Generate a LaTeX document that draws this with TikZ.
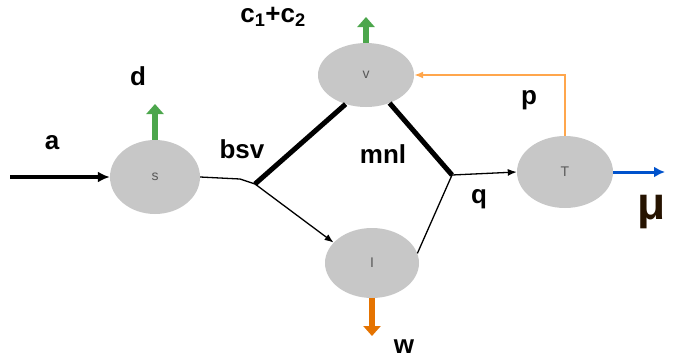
\documentclass[tikz,border=0pt]{standalone}
\usepackage{amsmath}
\usepackage{fontspec}
\setmainfont{Liberation Sans}
\usetikzlibrary{arrows.meta,shapes.geometric}

\begin{document}
\begin{tikzpicture}[x=1pt,y=-1pt,
		pool/.style={ellipse,fill=black!22,inner sep=0pt,font=\fontsize{14}{16}\selectfont,text=black!65},
		lbl/.style={font=\fontsize{26}{30}\selectfont\bfseries,inner sep=0pt},
		flow/.style={-{Latex[length=9pt,width=7pt]},line width=1.3pt},
		fat/.style={line width=6pt,-{Triangle[length=10pt,width=17pt]}}]
		\useasboundingbox (0,0) rectangle (675,360);
		% compartments
		\node[pool,minimum width=90pt,minimum height=74pt] (s) at (155,177) {s};
		\node[pool,minimum width=96pt,minimum height=64pt] (v) at (366,75) {v};
		\node[pool,minimum width=94pt,minimum height=70pt] (i) at (372,263) {I};
		\node[pool,minimum width=96pt,minimum height=72pt] (t) at (565,172) {T};
		\coordinate (in) at (10,177);
		\coordinate (j1) at (255,184);
		\coordinate (j2) at (452,175);
		\coordinate (sd) at (155,104);
		\coordinate (vc) at (366,17);
		\coordinate (iw) at (372,336);
		\coordinate (tm) at (665,172);
		% flows
		\draw[line width=3.5pt,-{Latex[length=12pt,width=11pt]}] (in) -- (s);
		\draw[line width=1.3pt] (s.east) -- (240,179) -- (j1);
		\draw[line width=5pt] (j1) -- (v.235);
		\draw[flow] (j1) -- (i.152);
		\draw[line width=5pt] (v.310) -- (j2);
		\draw[line width=1.3pt] (i.12) -- (j2);
		\draw[flow] (j2) -- (t.west);
		\draw[draw=orange!70!white,line width=1.6pt,-{Latex[length=9pt,width=7pt]}] (t.north) |- (v.east);
		\draw[fat,draw=green!50!black!70,fill=green!50!black!70] (s.north) -- (sd);
		\draw[fat,draw=green!50!black!70,fill=green!50!black!70] (v.north) -- (vc);
		\draw[fat,draw=orange!90!black,fill=orange!90!black] (i.south) -- (iw);
		\draw[line width=3pt,draw=blue!60!cyan!80!black,-{Latex[length=11pt,width=11pt]}] (t.east) -- (tm);
		% labels
		\node[lbl] (la) at (52,143) {a};
		\node[lbl] (ld) at (138,76) {d};
		\node[lbl] (lbsv) at (242,149) {bsv};
		\node[lbl] (lc) at (273,17) {c$_{\mathbf 1}$+c$_{\mathbf 2}$};
		\node[lbl] (lmnl) at (383,154) {mnl};
		\node[lbl] (lp) at (529,100) {p};
		\node[lbl] (lq) at (479,199) {q};
		\node[lbl] (lw) at (404,347) {w};
		\node[font=\fontsize{46}{48}\selectfont\bfseries,text=black!85!orange,inner sep=0pt] (lmu) at (652,212) {μ};
	\end{tikzpicture}
\end{document}
